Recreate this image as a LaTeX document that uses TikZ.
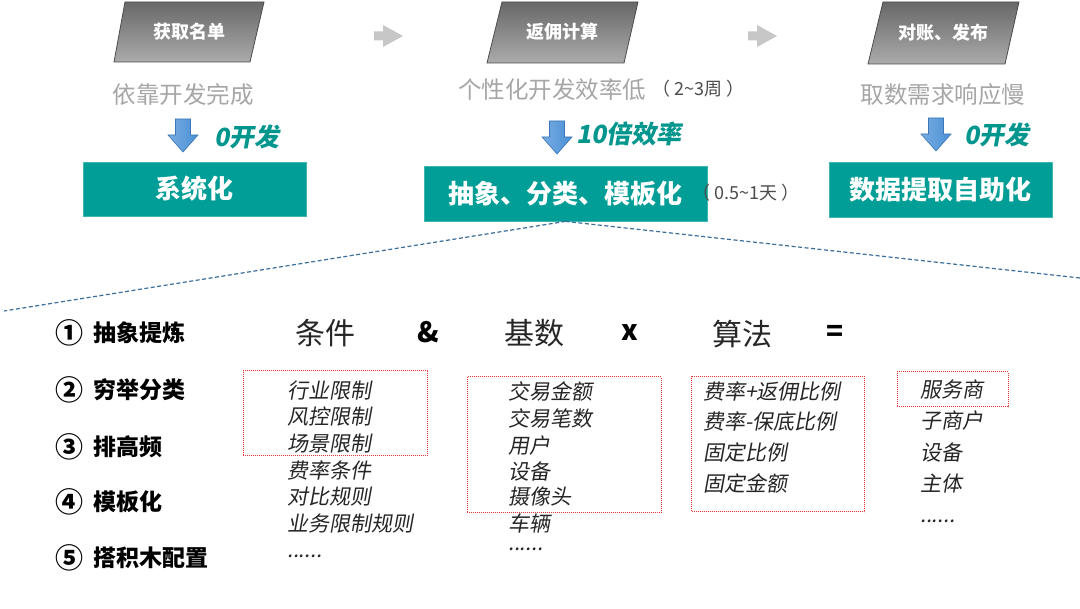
\documentclass[tikz,border=0pt]{standalone}
\usepackage{fontspec}
\setmainfont{Noto Sans CJK SC}
\newfontfamily\slfont[FakeSlant=0.18]{Noto Sans CJK SC}
\definecolor{teal1}{HTML}{009E96}
\definecolor{tealtxt}{HTML}{00968E}
\definecolor{graytxt}{HTML}{A6A6A6}
\definecolor{bluearr}{HTML}{4A90D6}
\definecolor{bluedark}{HTML}{3A76B8}
\definecolor{dashblue}{HTML}{3A6E9C}
\definecolor{reddot}{HTML}{E53535}
\definecolor{parbot}{HTML}{ABABAB}
\definecolor{partop}{HTML}{686868}
\begin{document}
\begin{tikzpicture}[x=1pt,y=-1pt,
  partext/.style={text=white, font=\fontsize{18}{18}\selectfont\bfseries, inner sep=0},
  graylbl/.style={text=graytxt, font=\fontsize{23.5}{24}\selectfont, inner sep=0},
  notelbl/.style={text=black!70, font=\fontsize{18}{18}\selectfont, inner sep=0},
  gainlbl/.style={text=tealtxt, font=\fontsize{25}{25}\selectfont\slfont\bfseries, inner sep=0},
  tealbox/.style={fill=teal1, draw=teal1!75!white, line width=0.8pt, text=white, font=\fontsize{26}{26}\selectfont\bfseries, inner sep=0},
  steplbl/.style={anchor=west, font=\fontsize{23}{23}\selectfont\bfseries, inner sep=0},
  stepnum/.style={font=\fontsize{28}{28}\selectfont\bfseries, inner sep=0},
  headlbl/.style={font=\fontsize{30}{30}\selectfont, text=black!85, inner sep=0},
  oplbl/.style={font=\fontsize{28}{28}\selectfont\bfseries, inner sep=0},
  itemlbl/.style={anchor=west, font=\fontsize{21}{21}\selectfont\slfont, text=black!85, inner sep=0},
  dotbox/.style={draw=reddot, line width=1pt, dash pattern=on 1pt off 1pt, inner sep=0},
  parshape/.style={top color=partop, bottom color=parbot, draw=black!70, line width=0.8pt},
  linkline/.style={draw=dashblue, line width=1.2pt, dash pattern=on 4pt off 2.5pt},
  grayarr/.pic={\fill[black!22] (0,-4.5) -- (9,-4.5) -- (9,-11) -- (29,0) -- (9,11) -- (9,4.5) -- (0,4.5) -- cycle;},
  bluearrow/.pic={\shade[left color=bluearr!75!white, right color=bluearr, draw=bluedark, line width=0.6pt] (-7.5,0) -- (7.5,0) -- (7.5,16) -- (15,16) -- (0,33) -- (-15,16) -- (-7.5,16) -- cycle;}
]
\useasboundingbox[fill=white] (0,0) rectangle (1080,609);

% top parallelograms
\shade[parshape] (125,2) -- (264,2) -- (250,62) -- (114,62) -- cycle;
\node[partext] (p1) at (189,32) {获取名单};
\shade[parshape] (502,2) -- (638,2) -- (624,63) -- (487,63) -- cycle;
\node[partext] (p2) at (562,32) {返佣计算};
\shade[parshape] (883,2) -- (1019,2) -- (1005,64) -- (868,64) -- cycle;
\node[partext] (p3) at (943,33) {对账、发布};

\pic at (374,36) {grayarr};
\pic at (748,36) {grayarr};

% gray problem texts
\node[graylbl] (g1) at (183,95) {依靠开发完成};
\node[graylbl] (g2) at (552,90) {个性化开发效率低};
\node[notelbl, anchor=west] (n2) at (652,89) {（ 2\textasciitilde3周 ）};
\node[graylbl] (g3) at (943,95) {取数需求响应慢};

% blue arrows and gains
\pic at (183,119) {bluearrow};
\pic at (557,121) {bluearrow};
\pic at (936,118) {bluearrow};
\node[gainlbl] (a1) at (247,137) {0开发};
\node[gainlbl] (a2) at (629,134) {10倍效率};
\node[gainlbl] (a3) at (997,135) {0开发};

% teal boxes
\node[tealbox, minimum width=223, minimum height=54] (b1) at (194.5,189) {系统化};
\node[tealbox, minimum width=283, minimum height=55] (b2) at (565.5,193.5) {抽象、分类、模板化};
\node[notelbl, anchor=west] (n3) at (692,193) {（ 0.5\textasciitilde1天 ）};
\node[tealbox, minimum width=223, minimum height=55] (b3) at (940.5,189.5) {数据提取自助化};

% dashed zoom lines
\coordinate (zl) at (4,311);
\coordinate (zr) at (1080,278);
\draw[linkline] (b2.south) -- (zl);
\draw[linkline] (b2.south) -- (zr);

% steps
\node[stepnum] (s1n) at (69,333) {①};
\node[steplbl] (s1) at (93,333) {抽象提炼};
\node[stepnum] (s2n) at (69,390) {②};
\node[steplbl] (s2) at (93,390) {穷举分类};
\node[stepnum] (s3n) at (69,447) {③};
\node[steplbl] (s3) at (93,447) {排高频};
\node[stepnum] (s4n) at (69,502) {④};
\node[steplbl] (s4) at (93,502) {模板化};
\node[stepnum] (s5n) at (69,558) {⑤};
\node[steplbl] (s5) at (93,558) {搭积木配置};

% formula header
\node[headlbl] (h1) at (325,333) {条件};
\node[oplbl] (o1) at (428,332) {\&};
\node[headlbl] (h2) at (534,333) {基数};
\node[oplbl] (o2) at (630,333) {x};
\node[headlbl] (h3) at (742,334) {算法};
\node[oplbl] (o3) at (835,333) {=};

% dotted boxes
\node[dotbox, minimum width=184, minimum height=85] (r1) at (335,413.5) {};
\node[dotbox, minimum width=194, minimum height=136] (r2) at (564,445) {};
\node[dotbox, minimum width=173, minimum height=135] (r3) at (778,444.5) {};
\node[dotbox, minimum width=111, minimum height=35] (r4) at (952.5,389.5) {};

% condition items
\node[itemlbl] (c1) at (287,391) {行业限制};
\node[itemlbl] (c2) at (287,417) {风控限制};
\node[itemlbl] (c3) at (287,444) {场景限制};
\node[itemlbl] (c4) at (287,470) {费率条件};
\node[itemlbl] (c5) at (287,497) {对比规则};
\node[itemlbl] (c6) at (287,524) {业务限制规则};
\node[itemlbl] (c7) at (287,556) {......};

% base items
\node[itemlbl] (d1) at (508,391) {交易金额};
\node[itemlbl] (d2) at (508,418) {交易笔数};
\node[itemlbl] (d3) at (508,446) {用户};
\node[itemlbl] (d4) at (508,472) {设备};
\node[itemlbl] (d5) at (508,497) {摄像头};
\node[itemlbl] (d6) at (508,523) {车辆};
\node[itemlbl] (d7) at (508,549) {......};

% algorithm items
\node[itemlbl] (e1) at (703,391) {费率+返佣比例};
\node[itemlbl] (e2) at (703,421) {费率-保底比例};
\node[itemlbl] (e3) at (703,452) {固定比例};
\node[itemlbl] (e4) at (703,483) {固定金额};

% result items
\node[itemlbl] (f1) at (920,389) {服务商};
\node[itemlbl] (f2) at (920,421) {子商户};
\node[itemlbl] (f3) at (920,453) {设备};
\node[itemlbl] (f4) at (920,484) {主体};
\node[itemlbl] (f5) at (920,521) {......};
\end{tikzpicture}
\end{document}
